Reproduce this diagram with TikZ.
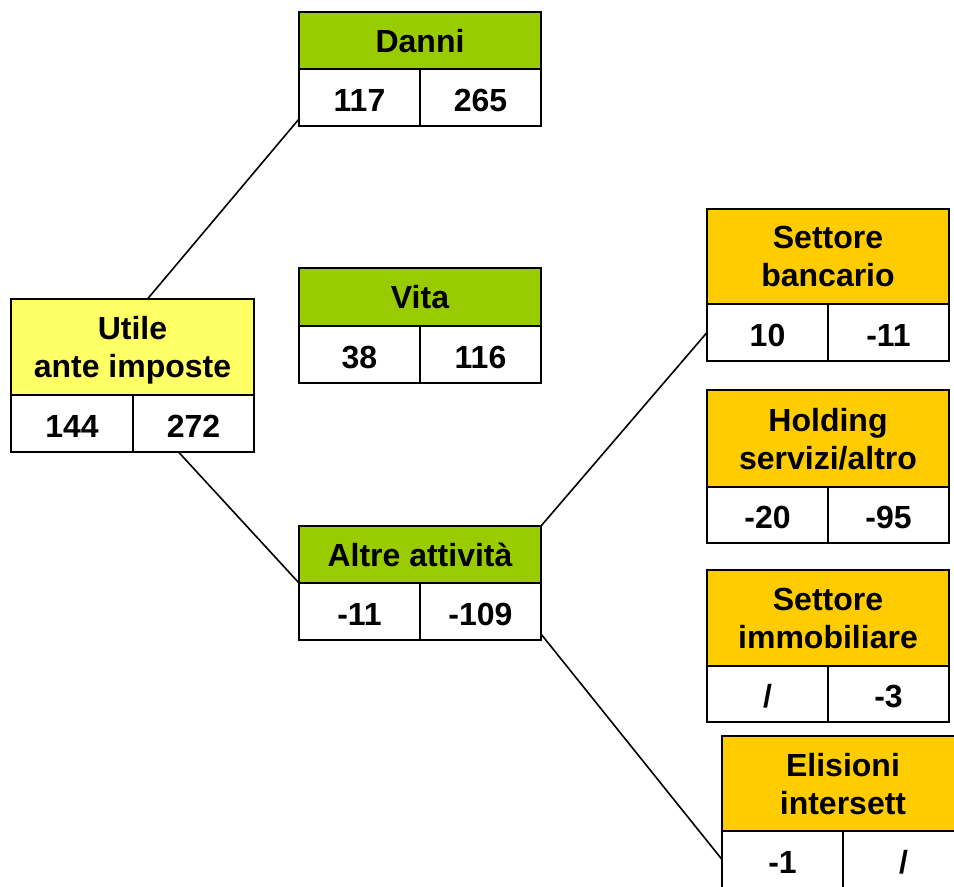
\documentclass[tikz,border=0pt]{standalone}
\usepackage{fontspec}
\setmainfont{Liberation Sans}
\definecolor{giallo}{HTML}{FFFF66}
\definecolor{verde}{HTML}{99CC00}
\definecolor{arancio}{HTML}{FFCC00}
\tikzset{
  testa/.style={draw, line width=2pt, fill=#1, anchor=north west, inner sep=0pt, outer sep=0pt,
    minimum width=242pt, align=center, text depth=0pt, font=\bfseries\fontsize{32}{38}\selectfont},
  cella/.style={draw, line width=2pt, fill=white, anchor=north west, inner sep=0pt, outer sep=0pt,
    minimum width=121pt, minimum height=57pt, text height=27pt, text depth=0pt,
    font=\bfseries\fontsize{32}{38}\selectfont},
  filo/.style={line width=1.6pt}
}
\begin{document}
\begin{tikzpicture}[x=1pt,y=-1pt]
    \useasboundingbox (0,0) rectangle (954,887);
    % utile
    \node[testa=giallo, minimum height=96pt, minimum width=243pt] (utile) at (11,299) {Utile\\ante imposte};
    \node[cella, minimum width=122pt] (utileA) at (utile.south west) {144};
    \node[cella] (utileB) at (utileA.north east) {272};
    % rami
    \node[testa=verde, minimum height=57pt] (danni) at (299,12) {Danni};
    \node[cella] (danniA) at (danni.south west) {117};
    \node[cella] (danniB) at (danniA.north east) {265};
    \node[testa=verde, minimum height=58pt] (vita) at (299,268) {Vita};
    \node[cella] (vitaA) at (vita.south west) {38};
    \node[cella] (vitaB) at (vitaA.north east) {116};
    \node[testa=verde, minimum height=57pt] (altre) at (299,526) {Altre attività};
    \node[cella] (altreA) at (altre.south west) {-11};
    \node[cella] (altreB) at (altreA.north east) {-109};
    % altre attivita
    \node[testa=arancio, minimum height=95pt] (banca) at (707,209) {Settore\\bancario};
    \node[cella] (bancaA) at (banca.south west) {10};
    \node[cella] (bancaB) at (bancaA.north east) {-11};
    \node[testa=arancio, minimum height=97pt] (holding) at (707,390) {Holding\\servizi/altro};
    \node[cella, minimum height=56pt] (holdingA) at (holding.south west) {-20};
    \node[cella, minimum height=56pt] (holdingB) at (holdingA.north east) {-95};
    \node[testa=arancio, minimum height=96pt] (immob) at (707,570) {Settore\\immobiliare};
    \node[cella, minimum height=56pt] (immobA) at (immob.south west) {/};
    \node[cella, minimum height=56pt] (immobB) at (immobA.north east) {-3};
    \node[testa=arancio, minimum height=95pt] (elis) at (722,736) {Elisioni\\intersett};
    \node[cella] (elisA) at (elis.south west) {-1};
    \node[cella] (elisB) at (elisA.north east) {/};
    % collegamenti
    \draw[filo] ([xshift=15pt]utile.north) -- ([yshift=7pt]danniA.south west);
    \draw[filo] ([xshift=-15pt]utileB.south) -- (altre.south west);
    \draw[filo] (altre.north east) -- (bancaA.west);
    \draw[filo] ([yshift=6pt]altreB.south east) -- (elisA.west);
\end{tikzpicture}
\end{document}
